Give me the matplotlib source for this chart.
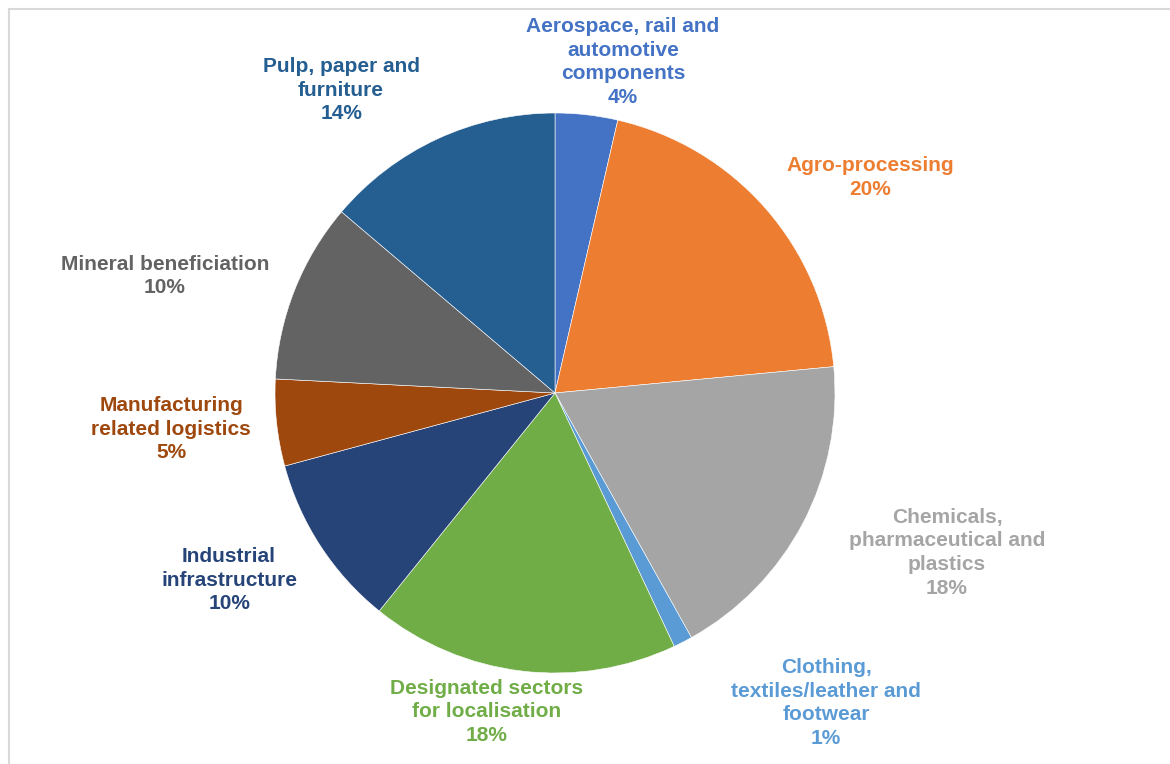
import matplotlib
matplotlib.use("Agg")
from matplotlib import pyplot as plt
from matplotlib.patches import Rectangle

# Datos del grafico (porcentajes)
sectors = ["Aerospace, rail and\nautomotive\ncomponents",
           "Agro-processing",
           "Chemicals,\npharmaceutical and\nplastics",
           "Clothing,\ntextiles/leather and\nfootwear",
           "Designated sectors\nfor localisation",
           "Industrial\ninfrastructure",
           "Manufacturing\nrelated logistics",
           "Mineral beneficiation",
           "Pulp, paper and\nfurniture"]
shares = [3.6, 19.9, 18.4, 1.1, 17.8, 10.0, 5.0, 10.4, 13.8]
colors = ["#4472C4", "#ED7D31", "#A5A5A5", "#5B9BD5", "#70AD47",
          "#264478", "#9E480E", "#636363", "#255E91"]
label_colors = ["#4472C4", "#ED7D31", "#A5A5A5", "#5B9BD5", "#70AD47",
                "#264478", "#9E480E", "#636363", "#255E91"]

# Posicion de las etiquetas (unidades del radio, centro del pie en 0,0)
label_xy = [(0.243, 1.182), (1.125, 0.771), (1.40, -0.571), (0.968, -1.107),
            (-0.243, -1.139), (-1.164, -0.668), (-1.371, -0.129),
            (-1.393, 0.418), (-0.764, 1.082)]

W, H = 1170, 764
cx, cy, r = 555, 393, 280

fig = plt.figure(figsize=(W / 100, H / 100), dpi=100)
fig.patches.append(Rectangle((8.5 / W, -0.5), 2, 1.5 - 8.5 / H, transform=fig.transFigure,
                             fill=False, edgecolor="#D9D9D9", linewidth=1.5))

ax = fig.add_axes([(cx - r) / W, (H - cy - r) / H, 2 * r / W, 2 * r / H])
ax.pie(shares, colors=colors, startangle=90, counterclock=False, radius=1,
       wedgeprops=dict(edgecolor="white", linewidth=0.4))
ax.set_xlim(-1, 1)
ax.set_ylim(-1, 1)
ax.set_aspect("equal")
ax.axis("off")

for name, val, col, (lx, ly) in zip(sectors, shares, label_colors, label_xy):
    ax.text(lx, ly, f"{name}\n{round(val)}%", ha="center", va="center", color=col,
            fontsize=15, fontweight="bold", family="Liberation Sans",
            linespacing=1.32, clip_on=False)

fig.savefig("out.png", dpi=100)
